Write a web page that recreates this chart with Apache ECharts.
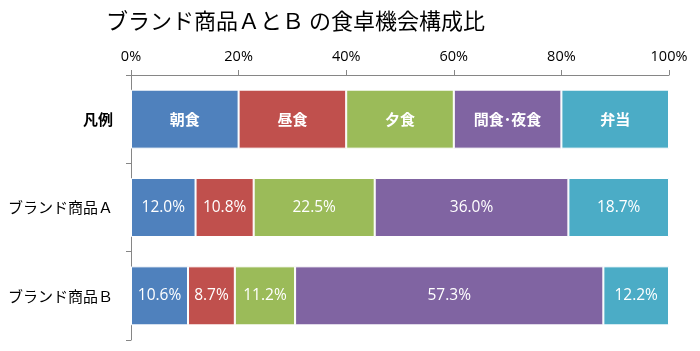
<!DOCTYPE html>
<html>
<head>
<meta charset="utf-8">
<script src="https://cdn.jsdelivr.net/npm/echarts@6/dist/echarts.min.js"></script>
<style>
html,body{margin:0;padding:0;background:#fff;}
#c{width:700px;height:351px;}
</style>
</head>
<body>
<div id="c"></div>
<script>
const titleText = 'ブランド商品ＡとＢ の食卓機会構成比';
const categories = ['凡例', 'ブランド商品Ａ', 'ブランド商品Ｂ'];
const seriesNames = ['朝食', '昼食', '夕食', '間食･夜食', '弁当'];
const breakfast = [20, 12.0, 10.6];
const lunch = [20, 10.8, 8.7];
const dinner = [20, 22.5, 11.2];
const snack = [20, 36.0, 57.3];
const bento = [20, 18.7, 12.2];
const xTicks = [0, 20, 40, 60, 80, 100];

const seriesValues = [breakfast, lunch, dinner, snack, bento];
const colors = ['#4F81BD', '#C0504D', '#9BBB59', '#8064A2', '#4BACC6'];
const font = '"Noto Sans CJK JP", "Noto Sans", sans-serif';

const chart = echarts.init(document.getElementById('c'));
chart.setOption({
  animation: false,
  title: {
    text: titleText,
    left: 101, top: 5,
    textStyle: {fontFamily: font, fontSize: 22, fontWeight: 'normal', color: '#000'}
  },
  grid: {left: 131, right: 31, top: 75, bottom: 11},
  xAxis: {
    type: 'value', position: 'top', min: xTicks[0], max: xTicks[xTicks.length - 1], interval: 20,
    axisLine: {show: true, lineStyle: {color: '#868686'}},
    axisTick: {show: true, length: 5, lineStyle: {color: '#868686'}},
    splitLine: {show: false},
    axisLabel: {formatter: '{value}%', color: '#000', fontSize: 14.5, fontFamily: '"Open Sans", "Noto Sans", sans-serif', margin: 11}
  },
  yAxis: {
    type: 'category', inverse: true, data: categories,
    axisLine: {show: true, lineStyle: {color: '#868686'}},
    axisTick: {show: true, length: 5, lineStyle: {color: '#868686'}},
    axisLabel: {
      color: '#000', fontSize: 15, fontFamily: font, margin: 18,
      formatter: function (v) { return v === '凡例' ? '{b|' + v + '}' : v; },
      rich: {b: {fontWeight: 'bold', fontSize: 15, fontFamily: font, color: '#000'}}
    }
  },
  series: seriesNames.map((name, i) => ({
    name: name, type: 'bar', stack: 'all', barWidth: 59,
    data: seriesValues[i],
    itemStyle: {color: colors[i], borderColor: '#fff', borderWidth: 1},
    label: {
      show: true, position: 'inside', color: '#fff', fontSize: 15.5,
      fontFamily: '"Open Sans", "Noto Sans CJK JP", sans-serif',
      formatter: function (p) {
        return p.dataIndex === 0 ? '{b|' + p.seriesName + '}' : p.value.toFixed(1) + '%';
      },
      rich: {b: {fontWeight: 'bold', fontSize: 15, color: '#fff', fontFamily: font}}
    }
  }))
});
</script>
</body>
</html>
